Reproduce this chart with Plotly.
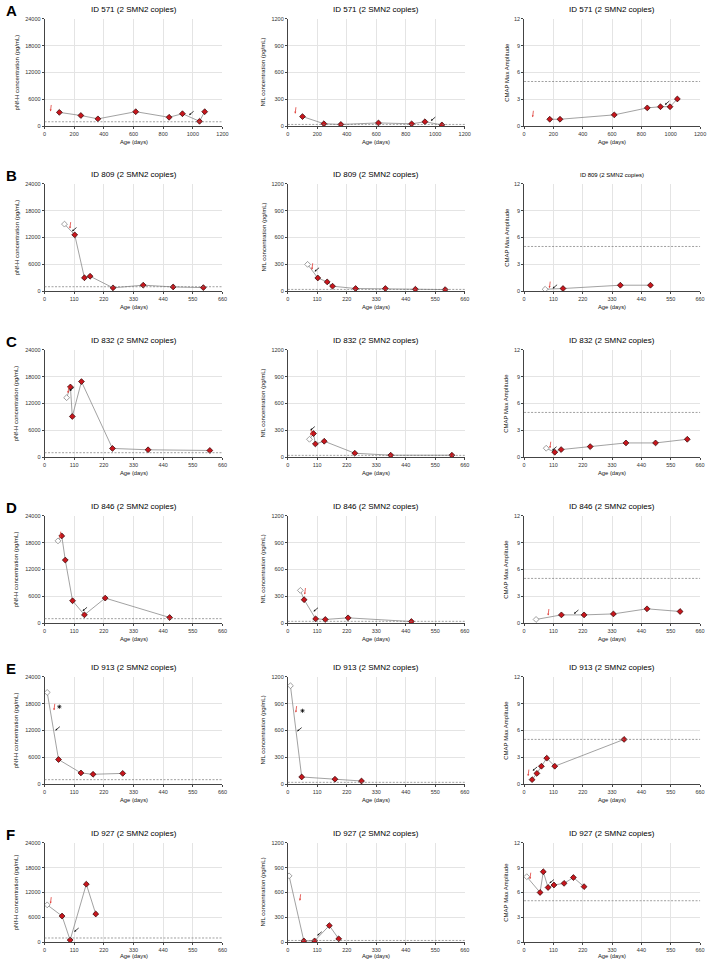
import plotly.graph_objects as go

# ---------------- data ----------------
PATIENT_IDS = ["571", "809", "832", "846", "913", "927"]
PANEL_LETTERS = ["A", "B", "C", "D", "E", "F"]
MEASURES = ["pnfh", "nfl", "cmap"]
Y_TITLES = ["pNf-H concentration (pg/mL)", "NfL concentration (pg/mL)", "CMAP Max Amplitude"]
Y_TICKS = {
    "pnfh": [0, 6000, 12000, 18000, 24000],
    "nfl": [0, 300, 600, 900, 1200],
    "cmap": [0, 3, 6, 9, 12],
}
X_TICKS_A = [0, 200, 400, 600, 800, 1000, 1200]
X_TICKS = [0, 110, 220, 330, 440, 550, 660]
THRESHOLDS = {"pnfh": 1000, "nfl": 20, "cmap": 5}

# Patient 571
A_PNFH_DAYS = [100, 245, 360, 615, 840, 930, 1045, 1080]
A_PNFH_VALS = [3100, 2400, 1650, 3250, 2000, 2800, 1100, 3250]
A_PNFH_OPEN = None
A_PNFH_RED = [(40, 3300)]
A_PNFH_BLACK = [(975, 2500)]
A_NFL_DAYS = [100, 245, 360, 615, 840, 930, 1045]
A_NFL_VALS = [108, 28, 20, 37, 27, 50, 15]
A_NFL_OPEN = None
A_NFL_RED = [(50, 140)]
A_NFL_BLACK = [(970, 60)]
A_CMAP_DAYS = [175, 245, 615, 840, 930, 995, 1045]
A_CMAP_VALS = [0.78, 0.78, 1.27, 2.05, 2.18, 2.18, 3.05]
A_CMAP_OPEN = None
A_CMAP_RED = [(58, 1.0)]
A_CMAP_BLACK = [(960, 2.4)]

# Patient 809
B_PNFH_DAYS = [112, 148, 169, 254, 366, 477, 589]
B_PNFH_VALS = [12600, 3000, 3350, 750, 1350, 950, 800]
B_PNFH_OPEN = (74, 15000)
B_PNFH_RED = [(94, 14000)]
B_PNFH_BLACK = [(102, 13400)]
B_NFL_DAYS = [112, 147, 167, 253, 364, 476, 587]
B_NFL_VALS = [148, 104, 56, 30, 30, 22, 18]
B_NFL_OPEN = (74, 300)
B_NFL_RED = [(90, 240)]
B_NFL_BLACK = [(100, 220)]
B_CMAP_DAYS = [146, 361, 474]
B_CMAP_VALS = [0.3, 0.67, 0.67]
B_CMAP_OPEN = (79, 0.22)
B_CMAP_RED = [(95, 0.35)]
B_CMAP_BLACK = [(107, 0.3)]

# Patient 832
C_PNFH_DAYS = [96, 103, 137, 252, 384, 613]
C_PNFH_VALS = [15700, 9100, 16900, 1950, 1650, 1500]
C_PNFH_OPEN = (82, 13300)
C_PNFH_RED = [(87, 14300)]
C_PNFH_BLACK = [(93, 14800)]
C_NFL_DAYS = [96, 103, 136, 250, 384, 612]
C_NFL_VALS = [264, 148, 178, 44, 22, 22]
C_NFL_OPEN = (81, 200)
C_NFL_RED = [(86, 240)]
C_NFL_BLACK = [(84, 300)]
C_CMAP_DAYS = [115, 139, 248, 382, 493, 612]
C_CMAP_VALS = [0.55, 0.85, 1.18, 1.59, 1.59, 2.0]
C_CMAP_OPEN = (83, 1.0)
C_CMAP_RED = [(97, 1.0)]
C_CMAP_BLACK = [(105, 0.75)]

# Patient 846
D_PNFH_DAYS = [64, 77, 104, 148, 225, 464]
D_PNFH_VALS = [19500, 14100, 5000, 1850, 5600, 1250]
D_PNFH_OPEN = (50, 18400)
D_PNFH_RED = [(57, 19000)]
D_PNFH_BLACK = [(141, 2700)]
D_NFL_DAYS = [61, 104, 140, 225, 461]
D_NFL_VALS = [262, 48, 41, 59, 18]
D_NFL_OPEN = (47, 366)
D_NFL_RED = [(63, 320)]
D_NFL_BLACK = [(96, 130)]
D_CMAP_DAYS = [140, 225, 335, 461, 585]
D_CMAP_VALS = [0.92, 0.92, 1.03, 1.6, 1.3]
D_CMAP_OPEN = (45, 0.41)
D_CMAP_RED = [(90, 0.85)]
D_CMAP_BLACK = [(187, 1.05)]

# Patient 913
E_PNFH_DAYS = [52, 135, 180, 290]
E_PNFH_VALS = [5500, 2500, 2200, 2400]
E_PNFH_OPEN = (10, 20500)
E_PNFH_RED = [(35, 16500)]
E_PNFH_BLACK = [(40, 12000)]
E_NFL_DAYS = [52, 176, 275]
E_NFL_VALS = [80, 55, 35]
E_NFL_OPEN = (10, 1100)
E_NFL_RED = [(30, 800)]
E_NFL_BLACK = [(35, 590)]
E_CMAP_DAYS = [30, 48, 65, 85, 115, 375]
E_CMAP_VALS = [0.5, 1.2, 2.0, 2.9, 2.0, 5.0]
E_CMAP_OPEN = None
E_CMAP_RED = [(15, 0.9)]
E_CMAP_BLACK = [(32, 1.5)]
E_STAR_PNFH = (55, 17300)
E_STAR_NFL = (55, 820)

# Patient 927
F_PNFH_DAYS = [65, 95, 155, 190]
F_PNFH_VALS = [6300, 500, 14000, 6800]
F_PNFH_OPEN = (10, 9000)
F_PNFH_RED = [(22, 9300)]
F_PNFH_BLACK = [(110, 2500)]
F_NFL_DAYS = [60, 100, 155, 190]
F_NFL_VALS = [15, 15, 200, 40]
F_NFL_OPEN = (5, 800)
F_NFL_RED = [(45, 500)]
F_NFL_BLACK = [(110, 80)]
F_CMAP_DAYS = [60, 72, 90, 112, 150, 185, 225]
F_CMAP_VALS = [6.0, 8.5, 6.6, 6.9, 7.1, 7.8, 6.7]
F_CMAP_OPEN = (10, 7.9)
F_CMAP_RED = [(22, 7.6)]
F_CMAP_BLACK = [(95, 7.1)]

g = globals()
PANELS = {}
for L in PANEL_LETTERS:
    for m in MEASURES:
        k = f"{L}_{m.upper()}"
        PANELS[(L, m)] = dict(days=g[k + "_DAYS"], vals=g[k + "_VALS"], open=g[k + "_OPEN"],
                              red=g[k + "_RED"], black=g[k + "_BLACK"])
STARS = {("E", "pnfh"): E_STAR_PNFH, ("E", "nfl"): E_STAR_NFL}

# ---------------- layout / style ----------------
W, H = 713, 967
COL_PX = [(43, 223), (289, 468), (528, 706)]
ROW_PX = [(16, 124), (182, 290), (349, 457), (516, 624), (678, 786), (845, 945)]
AGE_OFF = [16, 16, 16, 16, 16, 14]
YTITLE_OFF = [28, 25, 18]
FONT = "Arial, Liberation Sans, sans-serif"
RED = "#c8161d"
LINE_GRAY = "#8a8a8a"
GRID = "#e4e4e4"

fig = go.Figure()
layout = dict(width=W, height=H, margin=dict(l=0, r=0, t=0, b=0), autosize=False,
              paper_bgcolor="white", plot_bgcolor="white", showlegend=False,
              font=dict(family=FONT, color="#222"))
annotations = []
shapes = []


def px(xp):
    return xp / W


def py(yp):
    return 1 - yp / H


for r, L in enumerate(PANEL_LETTERS):
    top, bot = ROW_PX[r]
    annotations.append(dict(text=f"<b>{L}</b>", x=px(2), y=py(top - 8), xref="paper", yref="paper",
                            xanchor="left", yanchor="middle", showarrow=False,
                            font=dict(size=15, color="#000", family=FONT)))
    for c, m in enumerate(MEASURES):
        n = r * 3 + c + 1
        sfx = "" if n == 1 else str(n)
        xa, ya = "x" + sfx, "y" + sfx
        x0, x1 = COL_PX[c]
        xt = X_TICKS_A if r == 0 else X_TICKS
        yt = Y_TICKS[m]
        common = dict(showgrid=True, gridcolor=GRID, gridwidth=0.6, showline=True, linecolor="#444",
                      linewidth=0.8, ticks="outside", ticklen=2, tickwidth=0.6, tickcolor="#444",
                      tickfont=dict(size=5.5, color="#333", family=FONT), zeroline=False, fixedrange=True)
        layout["xaxis" + sfx] = dict(domain=[px(x0), px(x1)], range=[0, xt[-1]], tickvals=xt,
                                     ticktext=[str(v) for v in xt], anchor=ya, **common)
        layout["yaxis" + sfx] = dict(domain=[py(bot), py(top)], range=[0, yt[-1]], tickvals=yt,
                                     ticktext=[str(v) for v in yt], anchor=xa, **common)
        # threshold dashed line
        shapes.append(dict(type="line", xref=xa + " domain", yref=ya, x0=0, x1=1,
                           y0=THRESHOLDS[m], y1=THRESHOLDS[m],
                           line=dict(color="#777", width=0.7, dash="2px,1.5px")))
        # titles
        tsize = 6 if (L == "B" and m == "cmap") else 8
        annotations.append(dict(text=f"ID {PATIENT_IDS[r]} (2 SMN2 copies)", x=px((x0 + x1) / 2),
                                y=py(top - 9), xref="paper", yref="paper", showarrow=False,
                                xanchor="center", yanchor="middle", font=dict(size=tsize, color="#000")))
        annotations.append(dict(text=Y_TITLES[c], x=px(x0 - YTITLE_OFF[c]), y=py((top + bot) / 2),
                                xref="paper", yref="paper", showarrow=False, textangle=-90,
                                xanchor="center", yanchor="middle", font=dict(size=6, color="#111")))
        annotations.append(dict(text="Age (days)", x=px((x0 + x1) / 2), y=py(bot + AGE_OFF[r]),
                                xref="paper", yref="paper", showarrow=False,
                                xanchor="center", yanchor="middle", font=dict(size=5.8, color="#111")))

        p = PANELS[(L, m)]
        lx = ([p["open"][0]] if p["open"] else []) + list(p["days"])
        ly = ([p["open"][1]] if p["open"] else []) + list(p["vals"])
        fig.add_trace(go.Scatter(x=lx, y=ly, mode="lines", xaxis=xa, yaxis=ya,
                                 line=dict(color=LINE_GRAY, width=0.8), hoverinfo="skip"))
        fig.add_trace(go.Scatter(x=p["days"], y=p["vals"], mode="markers", xaxis=xa, yaxis=ya,
                                 marker=dict(symbol="diamond", size=4.5, color=RED,
                                             line=dict(color="#2a0000", width=0.7))))
        if p["open"]:
            fig.add_trace(go.Scatter(x=[p["open"][0]], y=[p["open"][1]], mode="markers", xaxis=xa, yaxis=ya,
                                     marker=dict(symbol="diamond", size=4.5, color="white",
                                                 line=dict(color="#777", width=0.7))))
        if (L, m) in STARS:
            s = STARS[(L, m)]
            fig.add_trace(go.Scatter(x=[s[0]], y=[s[1]], mode="markers", xaxis=xa, yaxis=ya,
                                     marker=dict(symbol="asterisk-open", size=3.5, color="#000",
                                                 line=dict(color="#000", width=0.7))))
        for (ax_, ay_), col, dx, dy in ([(a, "#e0403a", 1, -8) for a in p["red"]] +
                                        [(a, "#111", 6, -5) for a in p["black"]]):
            annotations.append(dict(x=ax_, y=ay_, xref=xa, yref=ya, text="", showarrow=True,
                                    arrowhead=2, arrowsize=0.5, arrowwidth=0.8, arrowcolor=col,
                                    ax=dx, ay=dy))

layout["annotations"] = annotations
layout["shapes"] = shapes
fig.update_layout(**layout)
# remove the browser's default 8px body margin so the figure sits at the window corner
fig.write_html("out.html", config={"displayModeBar": False},
               post_script="document.body.style.margin='0px';")
